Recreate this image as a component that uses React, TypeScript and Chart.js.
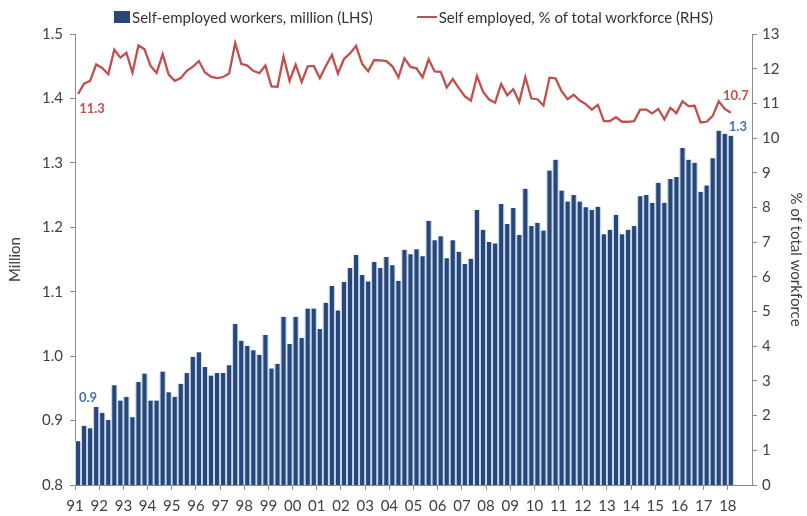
import React, { useEffect, useRef } from "react";
import { Chart, registerables } from "chart.js";

Chart.register(...registerables);

const yearLabels = [
  "91", "92", "93", "94", "95", "96", "97", "98", "99", "00",
  "01", "02", "03", "04", "05", "06", "07", "08", "09", "10",
  "11", "12", "13", "14", "15", "16", "17", "18",
];
const quarterLabels = ["Q1", "Q2", "Q3", "Q4"];
const categories = yearLabels.flatMap((y) => quarterLabels.map((q) => `${y} ${q}`));

// Self-employed workers, million (LHS), quarterly 1991 Q1 - 2018 Q1
const selfEmployedMillion = [
  0.868, 0.892, 0.888, 0.921, 0.912, 0.901, 0.955, 0.931, 0.937, 0.905,
  0.960, 0.973, 0.931, 0.931, 0.976, 0.944, 0.937, 0.957, 0.974, 0.999,
  1.006, 0.983, 0.970, 0.974, 0.974, 0.986, 1.050, 1.024, 1.016, 1.009,
  1.002, 1.033, 0.981, 0.988, 1.061, 1.019, 1.061, 1.028, 1.074, 1.074,
  1.042, 1.083, 1.109, 1.071, 1.115, 1.137, 1.157, 1.126, 1.116, 1.146,
  1.137, 1.154, 1.141, 1.117, 1.165, 1.158, 1.166, 1.155, 1.210, 1.180,
  1.186, 1.152, 1.180, 1.162, 1.143, 1.151, 1.227, 1.196, 1.177, 1.175,
  1.236, 1.205, 1.230, 1.188, 1.260, 1.202, 1.207, 1.195, 1.288, 1.305,
  1.257, 1.240, 1.250, 1.240, 1.231, 1.227, 1.232, 1.189, 1.196, 1.219,
  1.189, 1.196, 1.202, 1.248, 1.250, 1.238, 1.269, 1.238, 1.275, 1.278,
  1.323, 1.305, 1.300, 1.255, 1.265, 1.307, 1.350, 1.345, 1.342,
];

// Self employed, % of total workforce (RHS)
const selfEmployedPct = [
  11.27, 11.57, 11.65, 12.12, 12.02, 11.84, 12.55, 12.32, 12.46, 11.89,
  12.67, 12.56, 12.08, 11.88, 12.42, 11.83, 11.65, 11.73, 11.94, 12.06,
  12.22, 11.89, 11.77, 11.73, 11.76, 11.86, 12.74, 12.14, 12.09, 11.94,
  11.87, 12.09, 11.49, 11.48, 12.35, 11.65, 12.12, 11.62, 12.07, 12.08,
  11.73, 12.08, 12.40, 11.86, 12.28, 12.44, 12.66, 12.14, 11.93, 12.25,
  12.24, 12.22, 12.07, 11.75, 12.30, 12.05, 12.01, 11.75, 12.27, 11.92,
  11.91, 11.46, 11.70, 11.44, 11.20, 11.08, 11.79, 11.34, 11.11, 11.02,
  11.56, 11.23, 11.41, 11.04, 11.76, 11.14, 11.12, 10.94, 11.74, 11.72,
  11.35, 11.12, 11.25, 11.08, 10.98, 10.82, 10.96, 10.49, 10.49, 10.60,
  10.47, 10.47, 10.49, 10.82, 10.82, 10.71, 10.84, 10.54, 10.87, 10.72,
  11.06, 10.92, 10.93, 10.45, 10.47, 10.64, 11.06, 10.84, 10.73,
];

const leftTicks = { min: 0.8, max: 1.5, step: 0.1 };
const rightTicks = { min: 0, max: 13, step: 1 };

const BAR_FILL = "#284677";
const BAR_EDGE = "#c6dbef";
const LINE_COLOR = "#c0504d";
const AXIS_COLOR = "#8c8c8c";
const TEXT_COLOR = "#404040";
const FONT = "Lato";

const endLabelsPlugin = {
  id: "endLabels",
  afterDatasetsDraw(chart: any) {
    const ctx = chart.ctx;
    const barMeta = chart.getDatasetMeta(1);
    const lineMeta = chart.getDatasetMeta(0);
    const lastBar = selfEmployedMillion.length - 1;
    const lastLine = selfEmployedPct.length - 1;
    ctx.save();
    ctx.font = `bold 13px ${FONT}`;
    ctx.textAlign = "center";
    ctx.textBaseline = "middle";
    const b0 = barMeta.data[0];
    const bN = barMeta.data[lastBar];
    const l0 = lineMeta.data[0];
    const lN = lineMeta.data[lastLine];
    ctx.fillStyle = "#4a6fa5";
    ctx.fillText(selfEmployedMillion[0].toFixed(1), b0.x + 10, b0.y - 43);
    ctx.fillText(selfEmployedMillion[lastBar].toFixed(1), bN.x + 7, bN.y - 9);
    ctx.fillStyle = LINE_COLOR;
    ctx.fillText(selfEmployedPct[0].toFixed(1), l0.x + 14, l0.y + 15);
    ctx.fillText(selfEmployedPct[lastLine].toFixed(1), lN.x + 5, lN.y - 17);
    ctx.restore();
  },
};

export default function App() {
  const canvasRef = useRef<HTMLCanvasElement | null>(null);

  useEffect(() => {
    if (!canvasRef.current) return;
    const barData = categories.map((_, i) => (i < selfEmployedMillion.length ? selfEmployedMillion[i] : null));
    const lineData = categories.map((_, i) => (i < selfEmployedPct.length ? selfEmployedPct[i] : null));

    const tickFont = { family: FONT, size: 15 };
    const chart = new Chart(canvasRef.current, {
      type: "bar",
      data: {
        labels: categories,
        datasets: [
          {
            type: "line",
            label: "Self employed, % of total workforce (RHS)",
            data: lineData,
            yAxisID: "y1",
            borderColor: LINE_COLOR,
            backgroundColor: LINE_COLOR,
            borderWidth: 2.3,
            pointRadius: 0,
            tension: 0,
            order: 0,
          } as any,
          {
            type: "bar",
            label: "Self-employed workers, million (LHS)",
            data: barData,
            yAxisID: "y",
            backgroundColor: BAR_FILL,
            borderColor: BAR_EDGE,
            borderWidth: { left: 1.3, right: 1.3, top: 0, bottom: 0 },
            borderSkipped: false,
            categoryPercentage: 1,
            barPercentage: 1,
            order: 1,
          } as any,
        ],
      },
      options: {
        animation: false,
        responsive: false,
        maintainAspectRatio: false,
        layout: { padding: { top: 34, left: 0, right: 0, bottom: 0 } },
        plugins: {
          legend: { display: false },
          tooltip: { enabled: false },
        },
        scales: {
          x: {
            type: "category",
            offset: true,
            afterFit: (s: any) => {
              s.height = 31;
            },
            grid: {
              offset: true,
              drawOnChartArea: false,
              drawTicks: true,
              tickLength: 5,
              color: (c: any) => (typeof c.index === "number" && c.index % 4 === 0 ? AXIS_COLOR : "rgba(0,0,0,0)"),
            },
            border: { display: true, color: AXIS_COLOR, width: 1 },
            ticks: {
              autoSkip: false,
              maxRotation: 0,
              minRotation: 0,
              padding: 7,
              labelOffset: -3,
              color: TEXT_COLOR,
              font: tickFont,
              callback: (_v: any, i: number) => (i % 4 === 0 ? yearLabels[i / 4] : ""),
            },
          },
          y: {
            type: "linear",
            position: "left",
            min: leftTicks.min,
            max: leftTicks.max,
            afterFit: (s: any) => {
              s.width = 75;
            },
            grid: { drawOnChartArea: false, drawTicks: true, tickLength: 5, color: AXIS_COLOR },
            border: { display: true, color: AXIS_COLOR, width: 1 },
            ticks: {
              stepSize: leftTicks.step,
              padding: 7,
              color: TEXT_COLOR,
              font: tickFont,
              callback: (v: any) => Number(v).toFixed(1),
            },
            title: {
              display: true,
              text: "Million",
              color: TEXT_COLOR,
              font: { family: FONT, size: 15 },
              padding: { top: 6, bottom: 4 },
            },
          },
          y1: {
            type: "linear",
            position: "right",
            min: rightTicks.min,
            max: rightTicks.max,
            afterFit: (s: any) => {
              s.width = 55;
            },
            grid: { drawOnChartArea: false, drawTicks: true, tickLength: 5, color: AXIS_COLOR },
            border: { display: true, color: AXIS_COLOR, width: 1 },
            ticks: {
              stepSize: rightTicks.step,
              padding: 5,
              color: TEXT_COLOR,
              font: tickFont,
            },
            title: {
              display: true,
              text: "% of total workforce",
              color: TEXT_COLOR,
              font: { family: FONT, size: 15 },
              padding: { top: 2, bottom: 4 },
            },
          },
        },
      },
      plugins: [endLabelsPlugin],
    });
    return () => chart.destroy();
  }, []);

  return (
    <div style={{ position: "fixed", left: 0, top: 0, width: 807, height: 516, background: "#fff" }}>
      <canvas ref={canvasRef} width={807} height={516} style={{ position: "absolute", left: 0, top: 0, width: 807, height: 516 }} />
      <div
        style={{
          position: "absolute",
          top: 8,
          left: 10,
          width: 807,
          display: "flex",
          justifyContent: "center",
          alignItems: "center",
          gap: 44,
          fontFamily: FONT,
          fontSize: 15,
          color: "#333",
          lineHeight: "18px",
        }}
      >
        <div style={{ display: "flex", alignItems: "center" }}>
          <span style={{ display: "inline-block", width: 16, height: 12, background: BAR_FILL, marginRight: 2 }} />
          <span>Self-employed workers, million (LHS)</span>
        </div>
        <div style={{ display: "flex", alignItems: "center" }}>
          <span style={{ display: "inline-block", width: 20, height: 2.5, background: LINE_COLOR, marginRight: 2 }} />
          <span>Self employed, % of total workforce (RHS)</span>
        </div>
      </div>
    </div>
  );
}
